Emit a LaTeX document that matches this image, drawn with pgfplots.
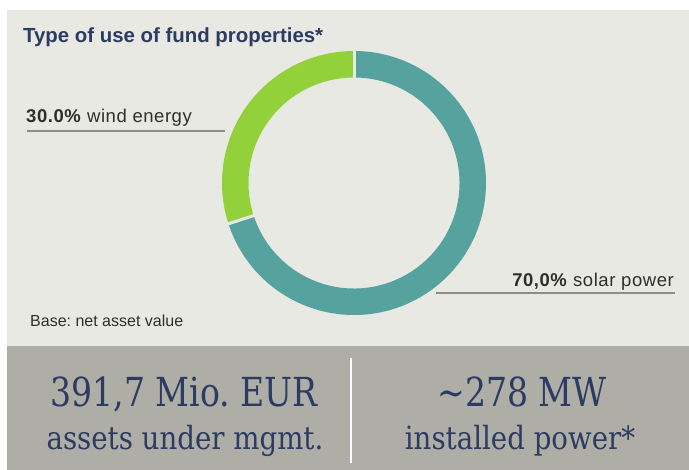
\documentclass[border=0pt]{standalone}
\usepackage{fontspec}
\usepackage{pgfplots}
\pgfplotsset{compat=1.18}
\setmainfont{Liberation Sans}
\newfontfamily\lblfont[LetterSpace=3]{Liberation Sans}
\newfontfamily\slabbig[FakeStretch=0.92]{DejaVu Serif Condensed}
\newfontfamily\slabsmall[FakeStretch=0.96]{DejaVu Serif Condensed}
\definecolor{bgl}{HTML}{E9E9E4}
\definecolor{band}{HTML}{AFAEA6}
\definecolor{solar}{HTML}{55A29F}
\definecolor{wind}{HTML}{93D13A}
\definecolor{navy}{HTML}{2B3B62}
\definecolor{lbl}{HTML}{2E2E2E}
\definecolor{rule}{HTML}{8C8C88}
% data (percent)
\def\windval{30.0}
\def\solarval{70.0}
\frenchspacing
\begin{document}
\begin{tikzpicture}
\begin{axis}[width=689pt,height=470pt,scale only axis,
  xmin=0,xmax=689,ymin=0,ymax=470,y dir=reverse,hide axis]
\fill[white] (axis cs:0,0) rectangle (axis cs:689,470);
\fill[bgl] (axis cs:7,10) rectangle (axis cs:689,346);
\fill[band] (axis cs:7,346) rectangle (axis cs:689,470);
% donut
\coordinate (C) at (axis cs:354,183);
\pgfmathsetmacro{\tot}{\windval+\solarval}
\pgfmathsetmacro{\aw}{90+360*\windval/\tot}
\pgfmathsetmacro{\as}{\aw-360}
\def\ro{132pt}\def\ri{105.5pt}
\fill[wind] ([shift={(90:\ro)}]C) arc[start angle=90,end angle=\aw,radius=\ro]
  -- ([shift={(\aw:\ri)}]C) arc[start angle=\aw,end angle=90,radius=\ri] -- cycle;
\fill[solar] ([shift={(90:\ro)}]C) arc[start angle=90,end angle=\as,radius=\ro]
  -- ([shift={(\as:\ri)}]C) arc[start angle=\as,end angle=90,radius=\ri] -- cycle;
\draw[bgl,line width=3pt] ([shift={(90:100pt)}]C) -- ([shift={(90:137pt)}]C);
\draw[bgl,line width=3pt] ([shift={(\aw:100pt)}]C) -- ([shift={(\aw:137pt)}]C);
% texts
\node[anchor=base west,inner sep=0pt,text=navy,font=\fontsize{20.4}{24}\selectfont\bfseries] at (axis cs:23,43) {Type of use of fund properties*};
\node[anchor=base west,inner sep=0pt,text=lbl,font=\fontsize{18.5}{22}\lblfont] at (axis cs:26,123) {\textbf{30.0\%} wind energy};
\draw[rule,line width=1.2pt] (axis cs:27,131) -- (axis cs:225,131);
\node[anchor=base east,inner sep=0pt,text=lbl,font=\fontsize{18.5}{22}\lblfont] at (axis cs:674,287) {\textbf{70,0\%} solar power};
\draw[rule,line width=1.2pt] (axis cs:436,293) -- (axis cs:675,293);
\node[anchor=base west,inner sep=0pt,text=lbl,font=\fontsize{16}{19}\selectfont] at (axis cs:30,327) {Base: net asset value};
% band
\draw[white,line width=2.5pt] (axis cs:351,358) -- (axis cs:351,463);
\node[anchor=base,inner sep=0pt,text=navy,font=\fontsize{40}{44}\slabbig] at (axis cs:184,407) {391,7 Mio. EUR};
\node[anchor=base,inner sep=0pt,text=navy,font=\fontsize{32}{36}\slabsmall] at (axis cs:185,450) {assets under mgmt.};
\node[anchor=base,inner sep=0pt,text=navy,font=\fontsize{40}{44}\slabbig] at (axis cs:522,407) {\textasciitilde278 MW};
\node[anchor=base,inner sep=0pt,text=navy,font=\fontsize{32}{36}\slabsmall] at (axis cs:520,450) {installed power*};
\end{axis}
\end{tikzpicture}
\end{document}
